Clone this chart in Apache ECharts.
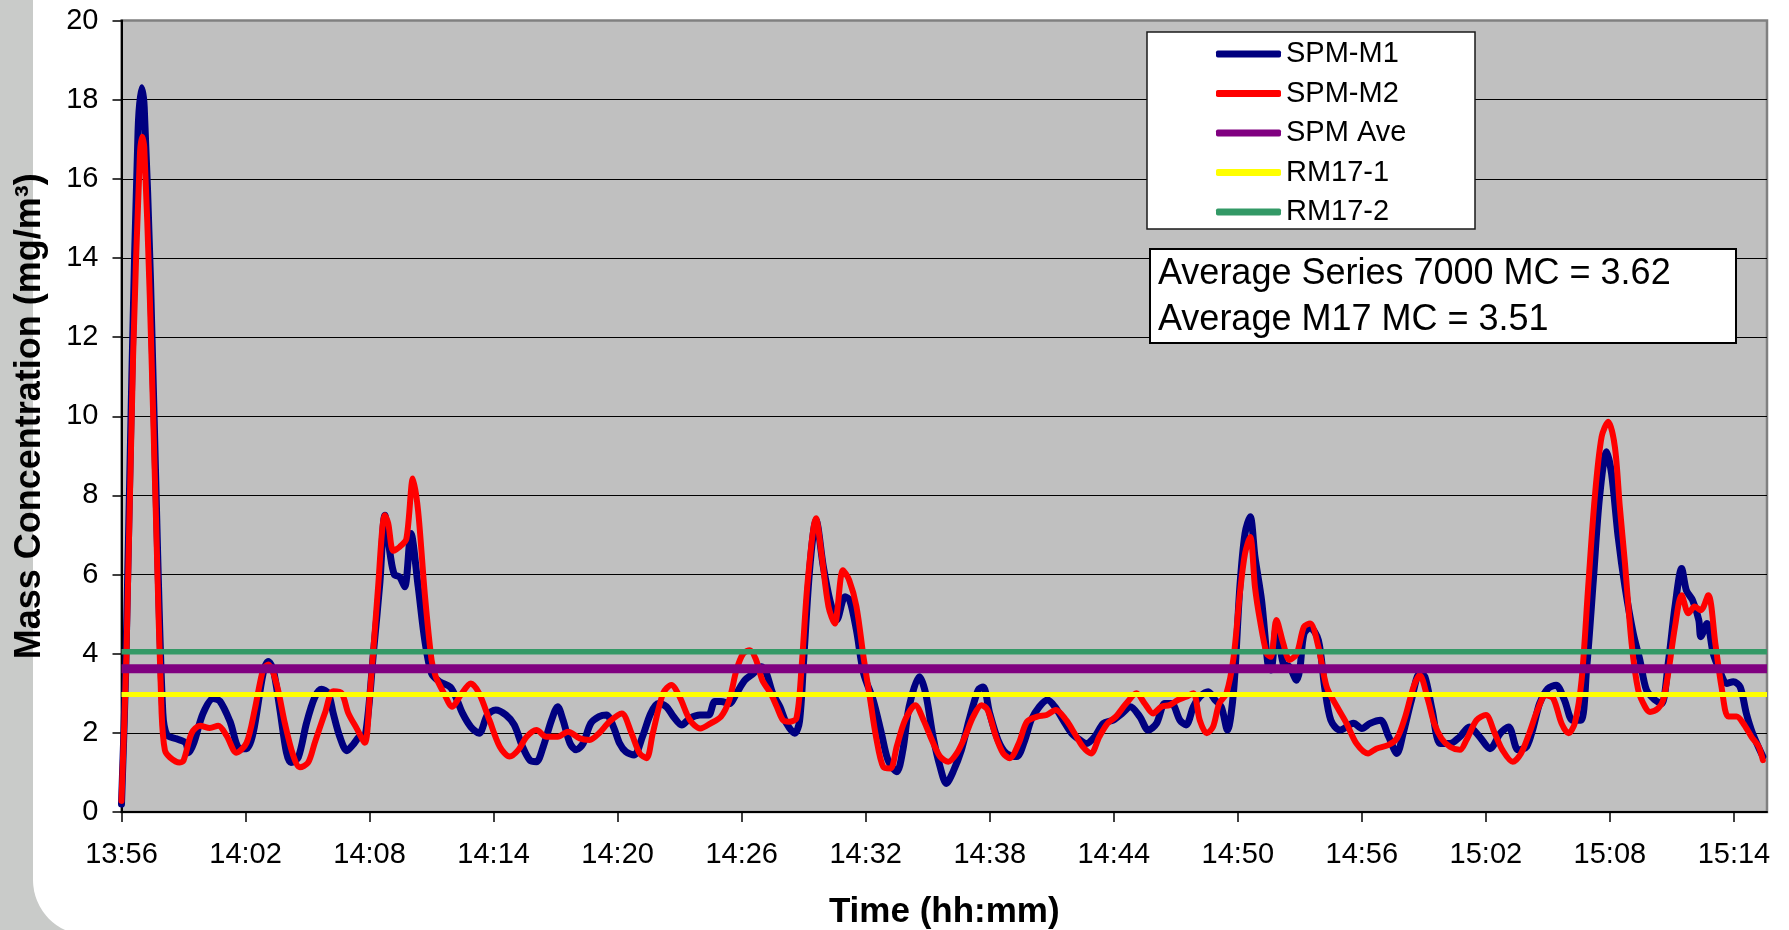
<!DOCTYPE html>
<html>
<head>
<meta charset="utf-8">
<title>Mass Concentration</title>
<script src="https://cdn.jsdelivr.net/npm/echarts@6/dist/echarts.min.js"></script>
<style>
  html, body { margin: 0; padding: 0; background: #ffffff; }
  #chart { width: 1789px; height: 930px; }
</style>
</head>
<body>
<div id="chart"></div>
<script>
// Minutes elapsed since 13:56, paired with mass concentration in mg/m3
const startClock = '13:56';

const timeTicks = ['13:56', '14:02', '14:08', '14:14', '14:20', '14:26', '14:32',
  '14:38', '14:44', '14:50', '14:56', '15:02', '15:08', '15:14'];

const spmM1 = [
  [0, 0.2], [0.2, 3.5], [0.5, 11.0], [0.8, 17.2], [0.97, 18.3], [1.1, 17.8], [1.4, 13.5],
  [1.75, 6.5], [2.0, 2.5], [2.2, 1.95], [2.66, 1.85], [3.1, 1.75], [3.25, 1.5], [3.5, 1.75],
  [3.95, 2.5], [4.44, 2.87], [4.76, 2.8], [5.24, 2.3], [5.73, 1.6], [6.05, 1.6], [6.37, 2.0],
  [6.85, 3.5], [7.1, 3.8], [7.34, 3.6], [7.66, 2.6], [7.98, 1.5], [8.2, 1.25], [8.55, 1.38],
  [8.95, 2.25], [9.35, 2.9], [9.68, 3.1], [10.0, 3.0], [10.24, 2.5], [10.56, 1.9], [10.9, 1.55],
  [11.2, 1.7], [11.5, 1.9], [11.8, 1.95], [12.2, 4.1], [12.5, 5.8], [12.74, 7.5], [13.0, 6.5],
  [13.2, 6.0], [13.46, 5.94], [13.7, 5.69], [14.0, 7.04], [14.35, 5.7], [14.67, 4.34],
  [15.0, 3.5], [15.4, 3.29], [15.9, 3.16], [16.2, 2.87], [16.5, 2.49], [16.9, 2.15], [17.3, 1.99],
  [17.7, 2.45], [18.1, 2.58], [18.6, 2.45], [19.0, 2.2], [19.4, 1.65], [19.75, 1.31], [20.07, 1.27],
  [20.4, 1.65], [20.8, 2.32], [21.1, 2.66], [21.36, 2.32], [21.7, 1.73], [22.0, 1.57], [22.33, 1.73],
  [22.7, 2.24], [23.1, 2.41], [23.46, 2.45], [23.8, 2.15], [24.1, 1.73], [24.4, 1.52], [24.8, 1.44],
  [25.2, 1.9], [25.6, 2.49], [25.96, 2.74], [26.36, 2.66], [26.7, 2.41], [27.1, 2.2], [27.5, 2.37],
  [27.98, 2.45], [28.4, 2.45], [28.7, 2.79], [29.0, 2.79], [29.4, 2.74], [29.75, 3.0], [30.15, 3.33],
  [30.56, 3.5], [30.96, 3.67], [31.2, 3.5], [31.5, 3.0], [31.85, 2.66], [32.17, 2.24], [32.57, 1.99],
  [32.8, 2.3], [33.0, 3.84], [33.3, 6.2], [33.6, 7.37], [33.95, 6.2], [34.27, 5.35], [34.6, 4.85],
  [35.0, 5.44], [35.23, 5.35], [35.55, 4.6], [35.9, 3.5], [36.36, 2.83], [36.76, 1.99], [37.08, 1.31],
  [37.5, 1.02], [37.8, 1.57], [38.1, 2.66], [38.6, 3.42], [38.9, 3.0], [39.26, 1.9], [39.6, 1.14],
  [39.9, 0.72], [40.23, 1.02], [40.63, 1.57], [41.0, 2.32], [41.44, 3.08], [41.68, 3.16], [42.0, 2.49],
  [42.4, 1.82], [42.8, 1.48], [43.3, 1.4], [43.7, 1.82], [44.0, 2.32], [44.4, 2.66], [44.8, 2.83],
  [45.15, 2.66], [45.55, 2.32], [45.96, 1.99], [46.36, 1.82], [46.68, 1.73], [47.08, 1.9], [47.5, 2.24],
  [47.97, 2.32], [48.4, 2.49], [48.8, 2.66], [49.26, 2.41], [49.67, 2.07], [50.07, 2.24], [50.47, 2.74],
  [50.8, 2.74], [51.2, 2.32], [51.5, 2.2], [51.85, 2.66], [52.16, 2.91], [52.57, 3.04], [52.9, 2.83],
  [53.2, 2.66], [53.5, 2.07], [53.8, 3.08], [54.1, 5.69], [54.35, 7.04], [54.6, 7.46], [54.83, 6.45],
  [55.15, 5.35], [55.47, 3.67], [55.6, 3.59], [55.87, 4.68], [56.2, 3.75], [56.5, 3.67], [56.85, 3.33],
  [57.0, 3.6], [57.2, 4.5], [57.5, 4.66], [57.9, 4.34], [58.2, 3.16], [58.5, 2.32], [58.94, 2.07],
  [59.6, 2.24], [60.0, 2.11], [60.4, 2.24], [60.9, 2.32], [61.3, 1.9], [61.7, 1.48], [62.0, 1.99],
  [62.4, 2.83], [62.8, 3.5], [63.05, 3.42], [63.4, 2.58], [63.8, 1.73], [64.26, 1.73], [64.74, 1.9],
  [65.2, 2.15], [65.7, 1.9], [66.2, 1.6], [66.7, 1.99], [67.1, 2.15], [67.56, 1.57], [67.97, 1.65],
  [68.3, 2.15], [68.6, 2.74], [69.0, 3.12], [69.4, 3.2], [69.8, 2.83], [70.2, 2.32], [70.6, 2.32],
  [70.87, 3.59], [71.2, 5.86], [71.5, 7.96], [71.84, 9.1], [72.08, 8.55], [72.4, 6.95], [72.73, 5.69],
  [73.13, 4.51], [73.45, 3.84], [73.77, 3.08], [74.18, 2.83], [74.5, 2.74], [74.82, 3.75], [75.15, 5.19],
  [75.47, 6.15], [75.7, 5.6], [76.0, 5.35], [76.3, 4.85], [76.4, 4.43], [76.7, 4.76], [77.0, 4.0],
  [77.3, 3.59], [77.65, 3.25], [77.97, 3.29], [78.3, 3.16], [78.6, 2.49], [78.9, 1.99], [79.4, 1.4]
];

const spmM2 = [
  [0, 0.28], [0.24, 4.0], [0.56, 11.5], [0.89, 16.6], [1.0, 17.06], [1.1, 16.8], [1.37, 13.0],
  [1.69, 7.0], [1.94, 2.5], [2.1, 1.56], [2.34, 1.38], [2.8, 1.25], [3.0, 1.3], [3.4, 2.0],
  [3.8, 2.18], [4.27, 2.12], [4.68, 2.18], [5.08, 1.93], [5.56, 1.5], [6.05, 1.75], [6.45, 2.6],
  [6.85, 3.6], [7.1, 3.73], [7.5, 3.24], [7.9, 2.25], [8.3, 1.44], [8.63, 1.13], [9.03, 1.25],
  [9.35, 1.75], [9.84, 2.5], [10.24, 3.05], [10.65, 3.0], [10.97, 2.5], [11.37, 2.12], [11.77, 1.75],
  [12.0, 2.87], [12.4, 5.6], [12.74, 7.5], [12.9, 7.3], [13.15, 6.6], [13.46, 6.7], [13.78, 6.9],
  [14.1, 8.43], [14.35, 7.6], [14.67, 5.52], [15.0, 3.84], [15.2, 3.42], [15.6, 3.0], [16.0, 2.66],
  [16.4, 2.95], [16.9, 3.25], [17.3, 3.0], [17.8, 2.32], [18.3, 1.65], [18.78, 1.4], [19.2, 1.57],
  [19.6, 1.9], [20.07, 2.07], [20.56, 1.9], [21.1, 1.9], [21.6, 2.03], [22.17, 1.86], [22.65, 1.82],
  [23.1, 1.99], [23.6, 2.28], [24.2, 2.49], [24.67, 1.99], [25.07, 1.48], [25.4, 1.36], [25.7, 1.99],
  [26.2, 3.0], [26.6, 3.21], [27.0, 2.91], [27.5, 2.32], [28.0, 2.11], [28.5, 2.24], [29.0, 2.41],
  [29.4, 2.83], [29.75, 3.59], [30.07, 4.0], [30.4, 4.09], [30.7, 3.84], [31.0, 3.33], [31.4, 3.0],
  [31.7, 2.66], [32.0, 2.32], [32.3, 2.28], [32.65, 2.37], [32.9, 3.67], [33.2, 5.86], [33.6, 7.42],
  [33.86, 6.53], [34.2, 5.19], [34.5, 4.76], [34.9, 6.11], [35.2, 5.86], [35.55, 5.2], [35.9, 3.9],
  [36.2, 2.9], [36.5, 1.9], [36.85, 1.14], [37.2, 1.1], [37.5, 1.65], [37.9, 2.32], [38.4, 2.7],
  [38.8, 2.32], [39.2, 1.82], [39.6, 1.4], [40.0, 1.27], [40.4, 1.48], [40.8, 1.9], [41.2, 2.41],
  [41.6, 2.7], [41.9, 2.58], [42.3, 1.9], [42.65, 1.48], [42.97, 1.36], [43.4, 1.73], [43.8, 2.28],
  [44.3, 2.41], [44.75, 2.45], [45.2, 2.58], [45.7, 2.32], [46.1, 1.99], [46.5, 1.65], [46.9, 1.48],
  [47.3, 1.9], [47.7, 2.24], [48.1, 2.41], [48.6, 2.74], [49.1, 3.0], [49.5, 2.74], [49.9, 2.49],
  [50.3, 2.66], [50.7, 2.7], [51.1, 2.83], [51.5, 2.91], [51.85, 3.0], [52.16, 2.32], [52.5, 1.99],
  [52.8, 2.15], [53.1, 2.74], [53.45, 3.0], [53.8, 3.92], [54.1, 5.52], [54.35, 6.53], [54.6, 6.95],
  [54.83, 5.69], [55.07, 4.85], [55.4, 4.0], [55.6, 3.92], [55.87, 4.85], [56.2, 4.26], [56.5, 3.84],
  [56.85, 4.0], [57.2, 4.68], [57.5, 4.76], [57.9, 4.17], [58.3, 3.16], [58.8, 2.66], [59.26, 2.24],
  [59.74, 1.73], [60.3, 1.48], [60.7, 1.6], [61.27, 1.69], [61.7, 1.86], [62.1, 2.41], [62.5, 3.16],
  [62.8, 3.46], [63.2, 2.83], [63.5, 2.24], [63.85, 1.86], [64.26, 1.65], [64.74, 1.57], [65.06, 1.82],
  [65.55, 2.32], [66.0, 2.45], [66.43, 1.99], [66.8, 1.57], [67.3, 1.27], [67.7, 1.48], [68.1, 1.99],
  [68.5, 2.58], [68.9, 2.95], [69.26, 2.87], [69.66, 2.24], [70.0, 1.99], [70.3, 2.24], [70.63, 3.33],
  [70.95, 5.69], [71.27, 7.96], [71.6, 9.48], [71.92, 9.86], [72.24, 9.23], [72.48, 7.71], [72.73, 6.28],
  [73.05, 4.26], [73.37, 3.08], [73.7, 2.66], [73.94, 2.53], [74.34, 2.62], [74.58, 2.83], [74.82, 3.5],
  [75.15, 4.68], [75.47, 5.48], [75.8, 5.02], [76.1, 5.19], [76.4, 5.1], [76.76, 5.48], [77.1, 4.26],
  [77.4, 3.16], [77.73, 2.41], [78.13, 2.41], [78.45, 2.24], [78.85, 1.9], [79.2, 1.65], [79.4, 1.31]
];

// Run averages (mg/m3)
const spmAverage = 3.62;
const rm17First = 2.97;
const rm17Second = 4.05;

const seriesNames = ['SPM-M1', 'SPM-M2', 'SPM Ave', 'RM17-1', 'RM17-2'];

// ---- helpers ----
function clockToMinutes(s) {
  const [h, m] = s.split(':').map(Number);
  return h * 60 + m;
}
const startMinutes = clockToMinutes(startClock);
function minutesToClock(v) {
  const total = Math.round(startMinutes + v);
  const h = Math.floor(total / 60);
  const m = total % 60;
  return h + ':' + String(m).padStart(2, '0');
}
const tickMinutes = timeTicks.map(t => clockToMinutes(t) - startMinutes);
const xMax = 79.6;
function flatLine(v) { return [[0, v], [xMax, v]]; }

const m17Average = (rm17First + rm17Second) / 2;
const FONT = '"Liberation Sans", Arial, Helvetica, sans-serif';

const chart = echarts.init(document.getElementById('chart'), null, { renderer: 'canvas' });

chart.setOption({
  animation: false,
  backgroundColor: '#c9cbc9',
  textStyle: { fontFamily: FONT, color: '#000' },
  grid: {
    left: 121.5, right: 22, top: 20.5, bottom: 118,
    outerBoundsMode: 'none',
    containLabel: false,
    show: true,
    backgroundColor: '#c0c0c0',
    borderColor: '#808080',
    borderWidth: 2.5
  },
  graphic: [
    {
      // white page panel with rounded lower-left corner
      type: 'rect', z: -10, silent: true,
      shape: { x: 33, y: -80, width: 1900, height: 1015, r: [0, 0, 0, 55] },
      style: { fill: '#ffffff' }
    },
    {
      type: 'rect', z: 3, silent: true,
      shape: { x: 1147, y: 32, width: 328, height: 197 },
      style: { fill: '#ffffff', stroke: '#1a1a1a', lineWidth: 1.5 }
    },
    {
      type: 'rect', z: 3, silent: true,
      shape: { x: 1150, y: 249, width: 586, height: 94 },
      style: { fill: '#ffffff', stroke: '#000000', lineWidth: 2 }
    },
    {
      type: 'text', z: 4, silent: true,
      x: 1158, y: 274.5,
      style: {
        text: 'Average Series 7000 MC = ' + spmAverage.toFixed(2),
        font: '36px ' + FONT, fill: '#000', verticalAlign: 'middle'
      }
    },
    {
      type: 'text', z: 4, silent: true,
      x: 1158, y: 320,
      style: {
        text: 'Average M17 MC = ' + m17Average.toFixed(2),
        font: '36px ' + FONT, fill: '#000', verticalAlign: 'middle'
      }
    }
  ],
  legend: {
    show: true,
    orient: 'vertical',
    left: 1216, top: 39,
    padding: 0,
    itemWidth: 65, itemHeight: 7,
    itemGap: 9.5,
    icon: 'roundRect',
    selectedMode: false,
    data: seriesNames,
    textStyle: { fontSize: 29, lineHeight: 30, color: '#000', fontFamily: FONT }
  },
  xAxis: {
    type: 'value',
    min: 0, max: xMax,
    name: 'Time (hh:mm)',
    nameLocation: 'middle',
    nameGap: 83,
    nameTextStyle: { fontSize: 35, fontWeight: 'bold', color: '#000', fontFamily: FONT },
    axisLine: { show: true, onZero: false, lineStyle: { color: '#000', width: 2 } },
    axisTick: { show: true, inside: false, length: 10, customValues: tickMinutes,
      lineStyle: { color: '#000', width: 1.5 } },
    axisLabel: {
      show: true, customValues: tickMinutes, margin: 28,
      fontSize: 29, color: '#000', fontFamily: FONT,
      formatter: v => minutesToClock(v)
    },
    splitLine: { show: false }
  },
  yAxis: {
    type: 'value',
    min: 0, max: 20, interval: 2,
    name: 'Mass Concentration (mg/m³)',
    nameLocation: 'middle',
    nameRotate: 90,
    nameGap: 73,
    nameTextStyle: { fontSize: 36, fontWeight: 'bold', color: '#000', fontFamily: FONT },
    axisLine: { show: true, lineStyle: { color: '#000', width: 2 } },
    axisTick: { show: true, inside: false, length: 9, lineStyle: { color: '#000', width: 1.5 } },
    axisLabel: { fontSize: 29, color: '#000', margin: 23, fontFamily: FONT },
    splitLine: { show: true, showMaxLine: false, lineStyle: { color: '#000', width: 1.2 } }
  },
  series: [
    {
      name: 'SPM-M1', type: 'line', data: spmM1, showSymbol: false, symbol: 'none',
      smooth: 0.3, color: '#000080', silent: true,
      lineStyle: { width: 7, color: '#000080', cap: 'round', join: 'round' }
    },
    {
      name: 'SPM-M2', type: 'line', data: spmM2, showSymbol: false, symbol: 'none',
      smooth: 0.3, color: '#ff0000', silent: true,
      lineStyle: { width: 6, color: '#ff0000', cap: 'round', join: 'round' }
    },
    {
      name: 'SPM Ave', type: 'line', data: flatLine(spmAverage), symbol: 'none',
      color: '#800080', silent: true,
      lineStyle: { width: 9, color: '#800080' }
    },
    {
      name: 'RM17-1', type: 'line', data: flatLine(rm17First), symbol: 'none',
      color: '#ffff00', silent: true,
      lineStyle: { width: 5, color: '#ffff00' }
    },
    {
      name: 'RM17-2', type: 'line', data: flatLine(rm17Second), symbol: 'none',
      color: '#339966', silent: true,
      lineStyle: { width: 5.5, color: '#339966' }
    }
  ]
});
</script>
</body>
</html>
